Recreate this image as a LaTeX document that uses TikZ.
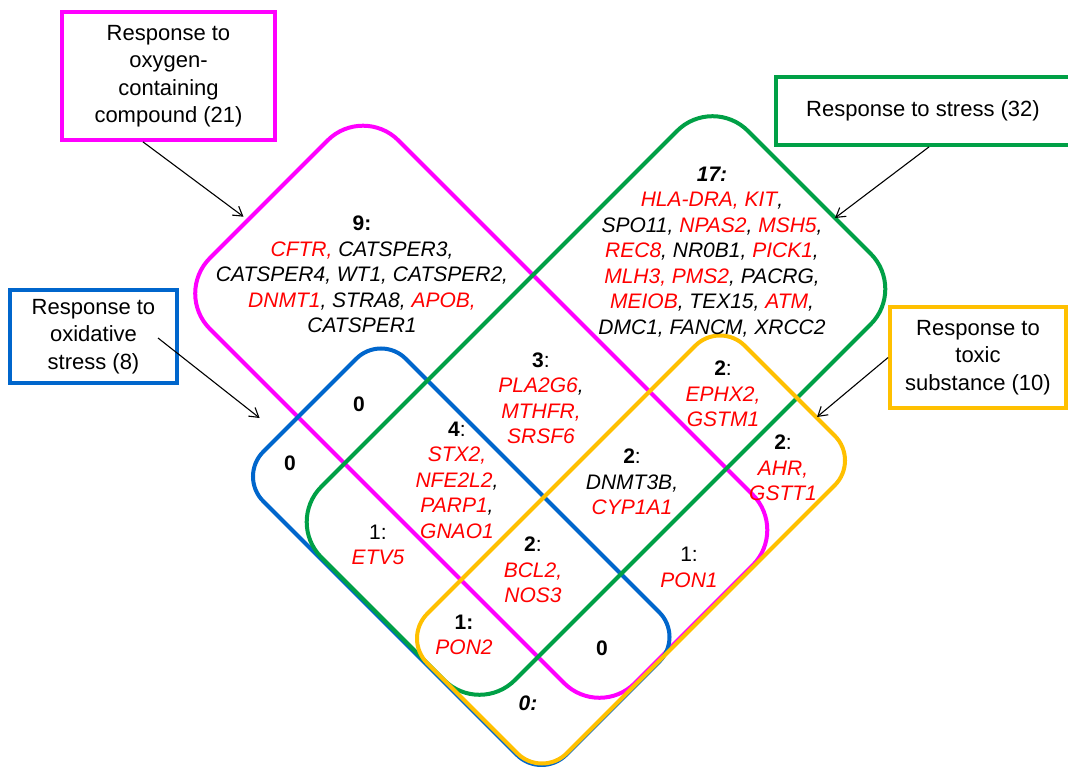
\documentclass[tikz,border=0pt]{standalone}
\usepackage{fontspec}
\setmainfont{Liberation Sans}
\usetikzlibrary{arrows.meta}
\definecolor{vmag}{RGB}{255,0,255}
\definecolor{vgreen}{RGB}{0,160,70}
\definecolor{vblue}{RGB}{0,102,204}
\definecolor{vgold}{RGB}{255,192,0}
\definecolor{vred}{RGB}{255,0,0}
\newcommand{\rg}[1]{\textcolor{vred}{#1}}
\begin{document}
\begin{tikzpicture}[x=1pt,y=-1pt,
  venn/.style={line width=4pt},
  lbox/.style={draw, line width=3.8pt, align=center, font=\fontsize{22}{27.5}\selectfont, inner sep=0pt},
  genes/.style={align=center, font=\fontsize{21}{25.5}\selectfont\itshape, inner sep=0pt},
  num/.style={font=\fontsize{21}{25.5}\selectfont\bfseries, inner sep=0pt},
  arr/.style={line width=1.1pt, -{Straight Barb[length=9pt,width=11pt]}}
]
\fill[white] (0,0) rectangle (1068,767);
\useasboundingbox (0,0) rectangle (1068,767);

% Venn shapes
\draw[venn, vmag, rounded corners=50pt] (575.5,317.5) -- (788,530) -- (599.5,718.5) -- (174.5,293.5) -- (363,105) -- cycle;
\draw[venn, vblue, rounded corners=35pt] (532.5,485.5) -- (684,637) -- (541.5,779.5) -- (238.5,476.5) -- (381,334) -- cycle;
\draw[venn, vgreen, rounded corners=50pt] (809.25,192.25) -- (906,289) -- (479.5,715.5) -- (286,522) -- (712.5,95.5) -- cycle;
\draw[venn, vgold, rounded corners=35pt] (789.75,390.75) -- (859.5,460.5) -- (542,778) -- (402.5,638.5) -- (720,321) -- cycle;

% label boxes
\node[lbox, draw=vmag, minimum width=213pt, minimum height=128pt] (magbox) at (168.5,76) {Response to\\oxygen-\\containing\\compound (21)};
\node[lbox, draw=vblue, minimum width=167pt, minimum height=93pt] (bluebox) at (93.5,336.5) {Response to\\oxidative\\stress (8)};
\node[lbox, draw=vgreen, minimum width=314pt, minimum height=68pt] (greenbox) at (933,111) {\hspace*{-20pt}Response to stress (32)};
\node[lbox, draw=vgold, minimum width=176pt, minimum height=101pt] (goldbox) at (978,357.5) {Response to\\toxic\\substance (10)};

% arrow targets
\coordinate (magtip) at (243.5,216.7);
\coordinate (bluetip) at (259.6,418);
\coordinate (greentip) at (835,218);
\coordinate (goldtip) at (817,417);
\draw[arr] ([xshift=-25.5pt]magbox.south) -- (magtip);
\draw[arr] ([xshift=64.5pt,yshift=-1.5pt]bluebox.center) -- (bluetip);
\draw[arr] ([xshift=-4pt]greenbox.south) -- (greentip);
\draw[arr] (goldbox.west) -- (goldtip);

% region texts
\node[genes] (r9) at (362,274.5) {\textbf{\upshape 9:}\\ \rg{CFTR,} CATSPER3,\\ CATSPER4, WT1, CATSPER2,\\ \rg{DNMT1}, STRA8, \rg{APOB,}\\ CATSPER1};
\node[genes] (r17) at (712,252) {\textbf{17:}\\ \rg{HLA-DRA, KIT},\\ SPO11, \rg{NPAS2}, \rg{MSH5},\\ \rg{REC8}, NR0B1, \rg{PICK1},\\ \rg{MLH3, PMS2}, PACRG,\\ \rg{MEIOB}, TEX15, \rg{ATM},\\ DMC1, FANCM, XRCC2};
\node[genes] (r3) at (541,398.5) {{\upshape\textbf{3}:}\\ \rg{PLA2G6},\\ \rg{MTHFR,}\\ \rg{SRSF6}};
\node[genes] (r4) at (457,480) {{\upshape\textbf{4}:}\\ \rg{STX2,}\\ \rg{NFE2L2},\\ \rg{PARP1},\\ \rg{GNAO1}};
\node[num] (r0a) at (359,404) {0};
\node[num] (r0b) at (290,463) {0};
\node[genes] (r1a) at (378,545) {{\upshape 1:}\\ \rg{ETV5}};
\node[genes] (r2a) at (533,570) {{\upshape\textbf{2}:}\\ \rg{BCL2,}\\ \rg{NOS3}};
\node[genes] (r1b) at (464,635) {{\upshape\textbf{1:}}\\ \rg{PON2}};
\node[num] (r0c) at (602,648) {0};
\node[num] (r0d) at (528,703) {\itshape 0:};
\node[genes] (r2b) at (632,482) {{\upshape\textbf{2}:}\\ DNMT3B,\\ \rg{CYP1A1}};
\node[genes] (r2c) at (723,394) {{\upshape\textbf{2}:}\\ \rg{EPHX2,}\\ \rg{GSTM1}};
\node[genes] (r2d) at (783,468) {{\upshape\textbf{2}:}\\ \rg{AHR,}\\ \rg{GSTT1}};
\node[genes] (r1c) at (689,567.5) {{\upshape 1:}\\ \rg{PON1}};
\end{tikzpicture}
\end{document}
